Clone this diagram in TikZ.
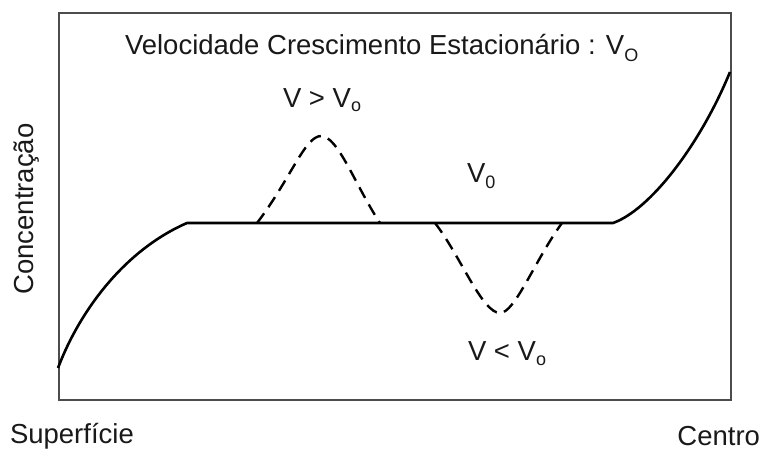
\documentclass[tikz,border=0pt]{standalone}
\usepackage{fontspec}
\setmainfont{Liberation Sans}
\newcommand{\lowsub}[2][6pt]{\raisebox{-#1}{\fontsize{18}{18}\selectfont #2}}
\begin{document}
\begin{tikzpicture}[x=1pt,y=-1pt,
  lbl/.style={inner sep=0pt,outer sep=0pt,font=\fontsize{27.5}{27.5}\selectfont,text=black!90},
  frame/.style={draw=black!70,line width=1.3pt},
  curve/.style={draw=black,line width=2.6pt},
  dashcurve/.style={draw=black,line width=2.4pt,dash pattern=on 12pt off 7.5pt}]
\useasboundingbox (0,0) rectangle (769,452);
\fill[white] (0,0) rectangle (769,452);
% frame
\draw[frame] (59,13) rectangle (731,400);
% coordinates of the profile
\coordinate (s0) at (58,368);
\coordinate (p1) at (187,223);
\coordinate (p2) at (613,223);
\coordinate (s1) at (730,72);
\coordinate (b0) at (257,223);
\coordinate (bt) at (321,136);
\coordinate (b1) at (380,223);
\coordinate (t0) at (435,223);
\coordinate (tb) at (500,313);
\coordinate (t1) at (562,223);
% solid profile
\draw[curve,line join=round] (s0) .. controls (80,310) and (125,250) .. (p1) -- (p2)
   .. controls (650,210) and (700,145) .. (s1);
% dashed peak
\draw[dashcurve] (b0) .. controls (290,180) and (305,136) .. (bt)
   .. controls (338,136) and (355,185) .. (b1);
% dashed trough
\draw[dashcurve] (t0) .. controls (460,255) and (482,313) .. (tb)
   .. controls (515,313) and (535,260) .. (t1);
% texts
\node[lbl,anchor=base west] (title) at (125,55) {Velocidade Crescimento Estacionário : V\lowsub[7pt]{O}};
\node[lbl,anchor=base west] (vgt) at (283,107) {V > V\lowsub[5pt]{o}};
\node[lbl,anchor=base west] (v0) at (467,182) {V\lowsub[6pt]{0}};
\node[lbl,anchor=base west] (vlt) at (468,360) {V < V\lowsub[5pt]{o}};
\node[lbl,anchor=base,rotate=90] (conc) at (34,209) {Concentração};
\node[lbl,anchor=base west] (sup) at (10,443) {Superfície};
\node[lbl,anchor=base east] (cen) at (760,445) {Centro};
\end{tikzpicture}
\end{document}
